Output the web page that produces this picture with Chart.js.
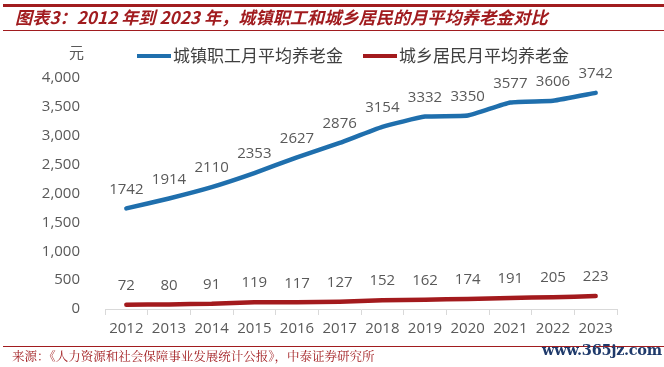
<!DOCTYPE html>
<html>
<head>
<meta charset="utf-8">
<script src="https://cdn.jsdelivr.net/npm/chart.js@4/dist/chart.umd.min.js"></script>
<style>
  html, body { margin: 0; padding: 0; background: #ffffff; }
  body { width: 664px; height: 367px; position: relative; overflow: hidden; font-family: "Noto Sans CJK SC", "Noto Sans", sans-serif; }
  #wrap { position: absolute; left: 0; top: 0; width: 664px; height: 367px; }
  .topline { position: absolute; left: 3px; right: 0; top: 4px; height: 3px; background: #a11c1f; }
  .titleline { position: absolute; left: 3px; right: 0; top: 30px; height: 1px; background: #a11c1f; }
  .footline { position: absolute; left: 3px; right: 0; top: 346px; height: 1px; background: #a11c1f; }
  #title { position: absolute; left: 15px; top: 5px; font-size: 17.2px; font-weight: bold; font-style: italic; color: #a11c1f; white-space: nowrap; line-height: 24px; }
  #unit { position: absolute; left: 69px; top: 41px; font-size: 15px; color: #595959; }
  #source { position: absolute; left: 12px; top: 348px; font-size: 12.5px; color: #a11c1f; white-space: nowrap; line-height: 17px; font-family: "Noto Serif CJK SC", "Noto Sans CJK SC", serif; }
  #wm { position: absolute; left: 542px; top: 341px; font-size: 14.5px; font-weight: bold; color: #1f3a6b; white-space: nowrap; font-family: "DejaVu Serif", serif; letter-spacing: -0.3px; }
</style>
</head>
<body>
<div id="wrap"><canvas id="c" width="664" height="367"></canvas></div>
<div class="topline"></div>
<div id="title">图表3：2012 年到 2023 年，城镇职工和城乡居民的月平均养老金对比</div>
<div class="titleline"></div>
<div id="unit">元</div>
<div class="footline"></div>
<div id="source">来源：《人力资源和社会保障事业发展统计公报》，中泰证券研究所</div>
<div id="wm">www.365jz.com</div>
<script>
const years = ["2012","2013","2014","2015","2016","2017","2018","2019","2020","2021","2022","2023"];
const urbanWorkers = [1742,1914,2110,2353,2627,2876,3154,3332,3350,3577,3606,3742];
const ruralResidents = [72,80,91,119,117,127,152,162,174,191,205,223];
const seriesNames = ["城镇职工月平均养老金","城乡居民月平均养老金"];
const yTicks = [0,500,1000,1500,2000,2500,3000,3500,4000];

const labelPlugin = {
  id: 'valueLabels',
  afterDatasetsDraw(chart) {
    const ctx = chart.ctx;
    ctx.save();
    ctx.font = '15px "Open Sans", "Noto Sans", sans-serif';
    ctx.fillStyle = '#595959';
    ctx.textAlign = 'center';
    ctx.textBaseline = 'middle';
    chart.data.datasets.forEach((ds, i) => {
      const meta = chart.getDatasetMeta(i);
      meta.data.forEach((pt, j) => {
        ctx.fillText(String(ds.data[j]), pt.x, pt.y - 19);
      });
    });
    ctx.restore();
  }
};

const legendPlugin = {
  id: 'customLegend',
  afterDraw(chart) {
    const ctx = chart.ctx;
    ctx.save();
    ctx.font = '17px "Noto Sans CJK SC", sans-serif';
    ctx.textBaseline = 'middle';
    ctx.textAlign = 'left';
    let x = 137;
    const y = 56;
    chart.data.datasets.forEach(ds => {
      ctx.fillStyle = ds.borderColor;
      ctx.fillRect(x, y - 2, 34, 4);
      ctx.fillStyle = '#404040';
      ctx.fillText(ds.label, x + 36, y);
      x += 36 + ctx.measureText(ds.label).width + 20;
    });
    ctx.restore();
  }
};

new Chart(document.getElementById('c'), {
  type: 'line',
  data: {
    labels: years,
    datasets: [
      { label: seriesNames[0], data: urbanWorkers, borderColor: '#1f6fad', backgroundColor: '#1f6fad', borderWidth: 4.5, pointRadius: 0, tension: 0.15, borderCapStyle: 'round', borderJoinStyle: 'round' },
      { label: seriesNames[1], data: ruralResidents, borderColor: '#a31a1d', backgroundColor: '#a31a1d', borderWidth: 4.5, pointRadius: 0, tension: 0.15, borderCapStyle: 'round', borderJoinStyle: 'round' }
    ]
  },
  options: {
    responsive: false,
    animation: false,
    layout: { padding: { left: 20, right: 47, top: 78, bottom: 28 } },
    plugins: {
      legend: { display: false },
      tooltip: { enabled: false }
    },
    scales: {
      x: {
        offset: true,
        grid: { display: true, drawOnChartArea: false, offset: true, tickLength: 6, color: '#d9d9d9' },
        border: { display: true, color: '#d9d9d9' },
        ticks: { color: '#595959', font: { size: 15, family: '"Open Sans", "Noto Sans", sans-serif' }, padding: 5, maxRotation: 0 },
        afterFit(s) { s.height = 30; }
      },
      y: {
        min: 0, max: 4000,
        afterBuildTicks(s) { s.ticks = yTicks.map(v => ({ value: v })); },
        grid: { display: false },
        border: { display: false },
        ticks: {
          color: '#595959', padding: 17,
          font: { size: 15, family: '"Open Sans", "Noto Sans", sans-serif' },
          callback: v => v.toLocaleString('en-US')
        },
        afterFit(s) { s.width = 85; }
      }
    }
  },
  plugins: [labelPlugin, legendPlugin]
});
</script>
</body>
</html>
